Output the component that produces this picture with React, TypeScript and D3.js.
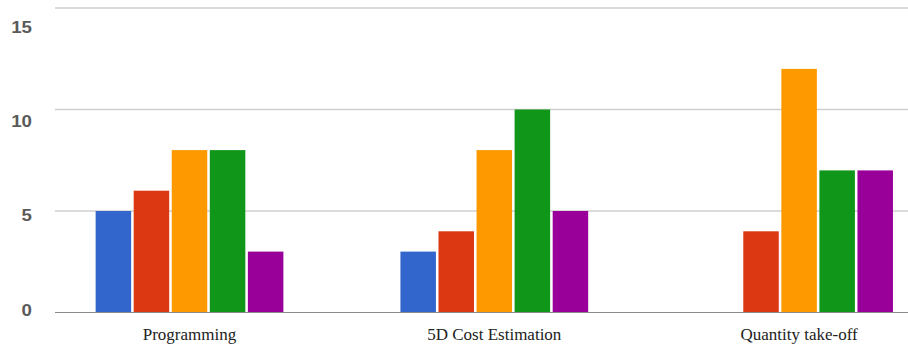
import React from "react";
import * as d3 from "d3";

const categories = ["Programming", "5D Cost Estimation", "Quantity take-off"];
const seriesNames = ["S1", "S2", "S3", "S4", "S5"];
const seriesColors = ["#3366cc", "#dc3912", "#ff9900", "#109618", "#990099"];
// values[series][category]
const s1 = [5, 3, 0];
const s2 = [6, 4, 4];
const s3 = [8, 8, 12];
const s4 = [8, 10, 7];
const s5 = [3, 5, 7];
const seriesValues = [s1, s2, s3, s4, s5];
const yTicks = [0, 5, 10, 15];

const W = 908;
const H = 351;

export default function App() {
  const plotLeft = 55;
  const plotRight = W;
  const y = d3.scaleLinear().domain([0, 15]).range([312.5, 8]);
  // tick labels sit on a slightly compressed scale
  const yLabel = d3.scaleLinear().domain([0, 15]).range([310, 27]);

  const x0 = d3
    .scaleBand<string>()
    .domain(categories)
    .range([plotLeft, plotRight])
    .paddingInner(0.384)
    .paddingOuter(0.0913)
    .align(0.73);
  const x1 = d3
    .scaleBand<string>()
    .domain(seriesNames)
    .range([0, x0.bandwidth()])
    .paddingInner(0.067);

  return (
    <svg
      width={W}
      height={H}
      style={{ position: "absolute", left: 0, top: 0, background: "#fff" }}
    >
      {yTicks.map((t) => (
        <g key={t}>
          <line
            x1={plotLeft}
            x2={plotRight}
            y1={y(t)}
            y2={y(t)}
            stroke={t === 0 ? "#8a8a8a" : "#cfcfcf"}
            strokeWidth={t === 0 ? 1.2 : 1.5}
          />
          <text
            x={32}
            y={yLabel(t)}
            textAnchor="end"
            dominantBaseline="central"
            fontFamily="'Liberation Sans', Arial, sans-serif"
            fontSize={17}
            fontWeight="bold"
            fill="#5a5a5a"
            transform={`translate(32,0) scale(1.1,1) translate(-32,0)`}
          >
            {t}
          </text>
        </g>
      ))}
      {categories.map((c, ci) => (
        <g key={c} transform={`translate(${x0(c)},0)`}>
          {seriesNames.map((s, si) => {
            const v = seriesValues[si][ci];
            if (v <= 0) return null;
            return (
              <rect
                key={s}
                x={x1(s)}
                y={y(v)}
                width={x1.bandwidth()}
                height={y(0) - y(v)}
                fill={seriesColors[si]}
              />
            );
          })}
        </g>
      ))}
      {/* redraw baseline over bars */}
      <line
        x1={plotLeft}
        x2={plotRight}
        y1={y(0)}
        y2={y(0)}
        stroke="#8a8a8a"
        strokeWidth={1.2}
      />
      {categories.map((c) => (
        <text
          key={c}
          x={(x0(c) ?? 0) + x0.bandwidth() / 2}
          y={340}
          textAnchor="middle"
          fontFamily="'Liberation Serif', 'Times New Roman', serif"
          fontSize={17}
          fill="#222"
        >
          {c}
        </text>
      ))}
    </svg>
  );
}
